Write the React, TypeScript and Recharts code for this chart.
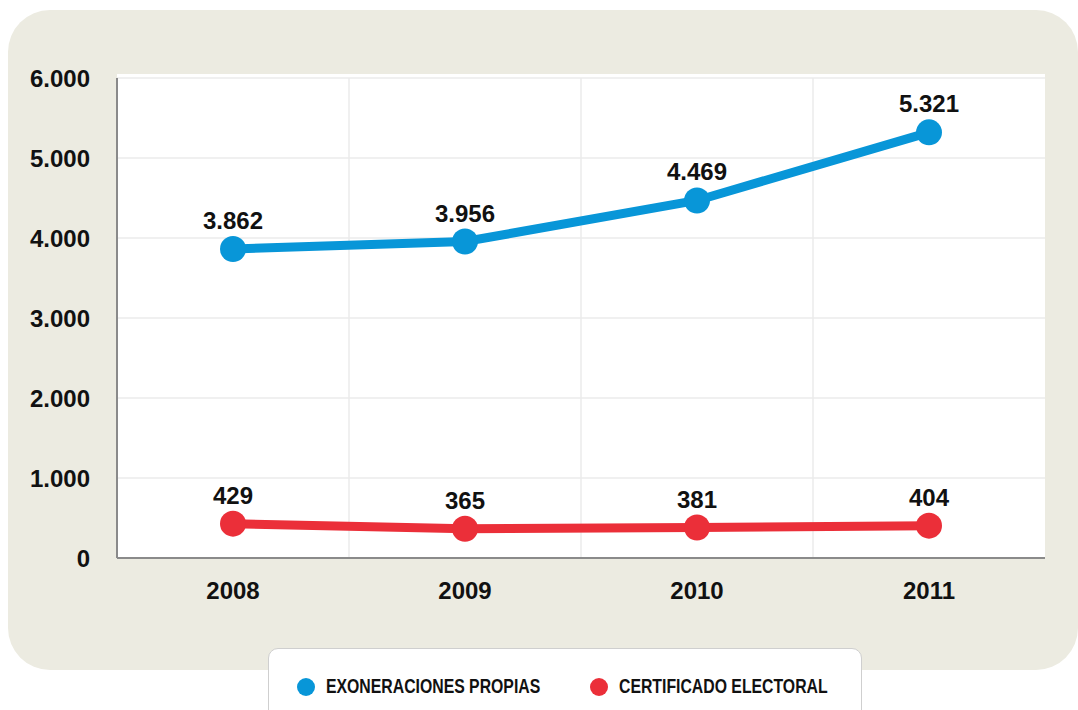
import { LineChart, Line, XAxis, YAxis, CartesianGrid, LabelList } from "recharts";

const years = ["2008", "2009", "2010", "2011"];
const exoneraciones = [3862, 3956, 4469, 5321];
const certificado = [429, 365, 381, 404];
const yTicks = [0, 1000, 2000, 3000, 4000, 5000, 6000];

const BLUE = "#0896d8";
const RED = "#eb2f39";
const BEIGE = "#ecebe1";

const data = years.map((year, i) => ({
  year,
  exoneraciones: exoneraciones[i],
  certificado: certificado[i],
}));

// thousands with a dot, as in the Spanish original
const fmt = (v: number | string) => String(v).replace(/\B(?=(\d{3})+(?!\d))/g, ".");

const tickStyle = { fontSize: 24, fontWeight: 700, fill: "#111" };

const legendItems = [
  { name: "EXONERACIONES PROPIAS", color: BLUE, left: 28 },
  { name: "CERTIFICADO ELECTORAL", color: RED, left: 321 },
];

export default function App() {
  return (
    <div style={{ position: "absolute", left: 0, top: 0, width: 1078, height: 710, overflow: "hidden", background: "#fff" }}>
      <div style={{ position: "absolute", left: 8, top: 10, width: 1070, height: 660, background: BEIGE, borderRadius: 42 }} />
      <div style={{ position: "absolute", left: 117, top: 74, width: 928, height: 484, background: "#fff" }} />
      <div style={{ position: "absolute", left: 0, top: 0 }}>
        <LineChart
          width={1078}
          height={710}
          data={data}
          margin={{ top: 78, right: 33, left: 17, bottom: 92 }}
          style={{ fontFamily: "'Liberation Sans', Arial, sans-serif" }}
        >
          <CartesianGrid
            stroke="#ebebeb"
            strokeWidth={1.5}
            verticalCoordinatesGenerator={({ offset }: any) =>
              [1, 2, 3].map((i) => offset.left + (offset.width * i) / years.length)
            }
          />
          <XAxis
            dataKey="year"
            padding={{ left: 116, right: 116 }}
            axisLine={{ stroke: "#8a8a8a", strokeWidth: 2 }}
            tickLine={false}
            tickSize={0}
            tickMargin={24}
            height={60}
            tick={tickStyle}
          />
          <YAxis
            domain={[0, 6000]}
            ticks={yTicks}
            tickFormatter={fmt}
            width={100}
            axisLine={{ stroke: "#8a8a8a", strokeWidth: 2 }}
            tickLine={false}
            tickSize={0}
            tickMargin={27}
            tick={tickStyle}
          />
          <Line
            dataKey="exoneraciones"
            stroke={BLUE}
            strokeWidth={9}
            dot={{ r: 13, fill: BLUE, stroke: "none" }}
            activeDot={false}
            isAnimationActive={false}
          >
            <LabelList dataKey="exoneraciones" position="top" offset={20} formatter={fmt} style={tickStyle} />
          </Line>
          <Line
            dataKey="certificado"
            stroke={RED}
            strokeWidth={9}
            dot={{ r: 13, fill: RED, stroke: "none" }}
            activeDot={false}
            isAnimationActive={false}
          >
            <LabelList dataKey="certificado" position="top" offset={20} formatter={fmt} style={tickStyle} />
          </Line>
        </LineChart>
      </div>
      <div
        style={{
          position: "absolute",
          left: 268,
          top: 648,
          width: 592,
          height: 80,
          background: "#fff",
          border: "1px solid #cfcfcf",
          borderRadius: 10,
          fontFamily: "'Liberation Sans', Arial, sans-serif",
          fontWeight: 700,
          fontSize: 20,
          color: "#111",
        }}
      >
        {legendItems.map((it) => (
          <div key={it.name} style={{ position: "absolute", left: it.left, top: 26, display: "flex", alignItems: "center", whiteSpace: "nowrap" }}>
            <span style={{ width: 18, height: 18, borderRadius: 9, background: it.color, display: "inline-block", marginRight: 11, flex: "none" }} />
            <span style={{ display: "inline-block", transform: "scaleX(0.79)", transformOrigin: "left center" }}>{it.name}</span>
          </div>
        ))}
      </div>
    </div>
  );
}
